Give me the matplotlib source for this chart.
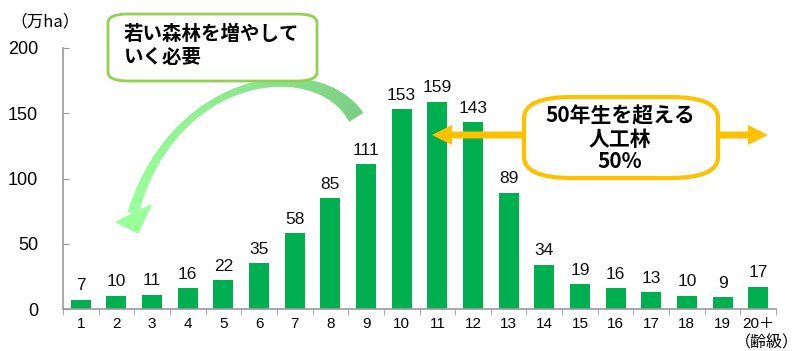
import numpy as np
import matplotlib
matplotlib.use("Agg")
from matplotlib import pyplot as plt
from matplotlib.patches import FancyBboxPatch, Polygon

# Data: area of planted forest by age class (10,000 ha)
age_classes = ["1", "2", "3", "4", "5", "6", "7", "8", "9", "10",
               "11", "12", "13", "14", "15", "16", "17", "18", "19", "20＋"]
areas = [7, 10, 11, 16, 22, 35, 58, 85, 111, 153,
         159, 143, 89, 34, 19, 16, 13, 10, 9, 17]
y_ticks = [0, 50, 100, 150, 200]

W, H = 798, 351
JP = ["Noto Sans CJK JP", "DejaVu Sans"]
NUM = ["Liberation Sans", "Noto Sans CJK JP"]
BAR = "#00B050"
AXC = "#999999"


def px(x, y):
    """pixel (top-left origin) -> figure fraction"""
    return (x / W, 1 - y / H)


fig = plt.figure(figsize=(W / 100, H / 100), dpi=100)
ax = fig.add_axes([63 / W, 1 - 309 / H, 713 / W, 261 / H])

x = np.arange(1, len(areas) + 1)
ax.bar(x, areas, width=0.56, color=BAR, zorder=2)
for xi, v in zip(x, areas):
    ax.text(xi, v + 5, str(v), ha="center", va="bottom",
            fontsize=12.5, family=NUM, color="#111111")

ax.set_xlim(0.5, len(areas) + 0.5)
ax.set_ylim(0, 200)
ax.set_yticks(y_ticks)
ax.set_yticklabels([str(t) for t in y_ticks], family=NUM, fontsize=13)
ax.set_xticks(x)
ax.set_xticklabels(age_classes, family=NUM, fontsize=11)
ax.set_xticks(np.arange(0.5, len(areas) + 1, 1), minor=True)
ax.tick_params(axis="x", which="major", length=0, pad=6)
ax.tick_params(axis="x", which="minor", length=4, color=AXC, direction="out")
ax.tick_params(axis="y", length=4, color=AXC, direction="in", pad=18)
for s in ["top", "right"]:
    ax.spines[s].set_visible(False)
for s in ["left", "bottom"]:
    ax.spines[s].set_color(AXC)
    ax.spines[s].set_linewidth(1.2)

fig.text(*px(10, 22), "（万ha）", family=JP, fontsize=12, va="center", ha="left")
fig.text(*px(767, 342), "（齢級）", family=JP, fontsize=11.5, va="center", ha="center")

# Green note box
gbox = FancyBboxPatch(px(108, 81), 209 / W, 67 / H,
                      boxstyle="round,pad=0,rounding_size=0.025",
                      transform=fig.transFigure, facecolor="white",
                      edgecolor="#92D050", linewidth=2, zorder=5)
fig.add_artist(gbox)
fig.text(*px(124, 46), "若い森林を増やして\nいく必要", family=JP, fontsize=14,
         fontweight="bold", va="center", ha="left", linespacing=1.25, zorder=6)

# Curved green arrow (sickle shape)
P = np.array([[356, 117], [318, 55], [175, 70], [133, 213]], float)
t = np.linspace(0, 1, 200)
B = ((1 - t) ** 3)[:, None] * P[0] + (3 * (1 - t) ** 2 * t)[:, None] * P[1] \
    + (3 * (1 - t) * t ** 2)[:, None] * P[2] + (t ** 3)[:, None] * P[3]
d = np.gradient(B, axis=0)
nrm = np.stack([-d[:, 1], d[:, 0]], axis=1)
nrm /= np.linalg.norm(nrm, axis=1)[:, None]
wid = 2 + 14 * (1 - t) ** 2.2 + 8 * t ** 2.5
cols_a = np.array([0x7D, 0xCE, 0x82]) / 255
cols_b = np.array([0x99, 0xFF, 0x99]) / 255
for i in range(len(t) - 1):
    a0, a1 = B[i], B[i + 1]
    w0, w1 = wid[i] / 2, wid[i + 1] / 2
    quad = [a0 + nrm[i] * w0, a1 + nrm[i + 1] * w1,
            a1 - nrm[i + 1] * w1, a0 - nrm[i] * w0]
    c = cols_a + (cols_b - cols_a) * t[i]
    fig.add_artist(Polygon([px(*q) for q in quad], closed=True,
                           transform=fig.transFigure, facecolor=c,
                           edgecolor=c, linewidth=0.6, zorder=4))
head = [px(116, 222), px(151, 205), px(138, 233)]
fig.add_artist(Polygon(head, closed=True, transform=fig.transFigure,
                       facecolor=cols_b, edgecolor=cols_b, zorder=4))

# Yellow double arrow and box
YEL = "#FFC000"
yc, sh, hw, hl = 135, 3.5, 10, 20
x0, x1 = 432, 768
dbl = [(x0, yc), (x0 + hl, yc - hw), (x0 + hl, yc - sh), (x1 - hl, yc - sh),
       (x1 - hl, yc - hw), (x1, yc), (x1 - hl, yc + hw), (x1 - hl, yc + sh),
       (x0 + hl, yc + sh), (x0 + hl, yc + hw)]
fig.add_artist(Polygon([px(*q) for q in dbl], closed=True,
                       transform=fig.transFigure, facecolor=YEL,
                       edgecolor="none", zorder=6))
ybox = FancyBboxPatch(px(524, 178), 194 / W, 81 / H,
                      boxstyle="round,pad=0,rounding_size=0.06",
                      transform=fig.transFigure, facecolor="white",
                      edgecolor=YEL, linewidth=3, zorder=7)
fig.add_artist(ybox)
fig.text(*px(620, 139), "50年生を超える\n人工林\n50%", family=JP, fontsize=15,
         fontweight="bold", va="center", ha="center", linespacing=1.1, zorder=8)

fig.savefig("out.png", dpi=100)
